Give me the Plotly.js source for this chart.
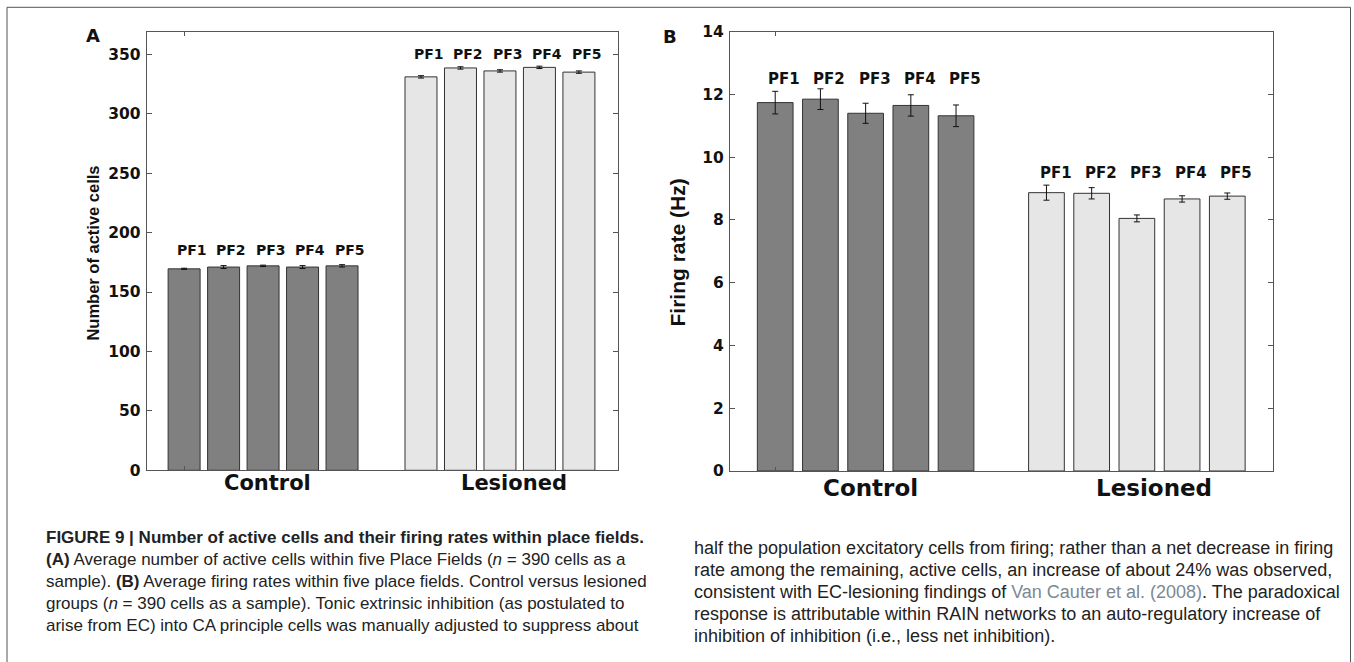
<!DOCTYPE html>
<html>
<head>
<meta charset="utf-8">
<script src="https://cdn.plot.ly/plotly-3.0.1.min.js"></script>
<style>
  html, body { margin: 0; padding: 0; background: #ffffff; }
  #chart { width: 1354px; height: 662px; }
</style>
</head>
<body>
<div id="chart"></div>
<script>
// ---- data ----
const groups = ['Control', 'Lesioned'];
const fields = ['PF1', 'PF2', 'PF3', 'PF4', 'PF5'];

// Panel A: number of active cells
const activeControl = [169.5, 171, 172, 171, 172];
const activeControlErr = [0.5, 1.2, 0.6, 1.2, 1.0];
const activeLesioned = [331, 338.5, 336, 339, 335];
const activeLesionedErr = [1.0, 1.0, 1.0, 1.0, 1.0];

// Panel B: firing rate (Hz)
const rateControl = [11.74, 11.85, 11.40, 11.65, 11.32];
const rateControlErr = [0.36, 0.33, 0.32, 0.34, 0.345];
const rateLesioned = [8.87, 8.85, 8.05, 8.67, 8.76];
const rateLesionedErr = [0.24, 0.18, 0.11, 0.10, 0.10];

const yTicksA = [0, 50, 100, 150, 200, 250, 300, 350];
const yTicksB = [0, 2, 4, 6, 8, 10, 12, 14];

// ---- layout helpers ----
const W = 1354, H = 662;
const px = v => v / W;
const py = v => 1 - v / H;

const ctrlPos = fields.map((_, i) => i + 1);
const lesPos = fields.map((_, i) => i + 7);

const darkFill = '#808080';
const lightFill = '#e6e6e6';
const edge = '#333333';
const axisCol = '#555555';

function barTrace(x, y, err, fill, width, xa, ya) {
  return {
    type: 'bar', x: x, y: y, width: width,
    xaxis: xa, yaxis: ya,
    marker: { color: fill, line: { color: edge, width: 1 } },
    error_y: { type: 'data', array: err, visible: true, color: '#111', thickness: 1, width: 3 },
    hoverinfo: 'y'
  };
}

const data = [
  barTrace(ctrlPos, activeControl, activeControlErr, darkFill, 0.81, 'x', 'y'),
  barTrace(lesPos, activeLesioned, activeLesionedErr, lightFill, 0.81, 'x', 'y'),
  barTrace(ctrlPos, rateControl, rateControlErr, darkFill, 0.79, 'x2', 'y2'),
  barTrace(lesPos, rateLesioned, rateLesionedErr, lightFill, 0.79, 'x2', 'y2')
];

const tickFont = { family: 'DejaVu Sans', size: 15.5, color: '#111', weight: 'bold' };

function xAxis(domain, range, anchor) {
  return {
    domain: domain, range: range, anchor: anchor,
    showline: true, linecolor: axisCol, linewidth: 1, mirror: 'ticks',
    ticks: 'inside', ticklen: 4, tickcolor: axisCol, tickvals: [1],
    showticklabels: false, showgrid: false, zeroline: false, fixedrange: true
  };
}
function yAxis(domain, range, tickvals, anchor) {
  return {
    domain: domain, range: range, anchor: anchor,
    showline: true, linecolor: axisCol, linewidth: 1, mirror: 'ticks',
    ticks: 'inside', ticklen: 5, tickcolor: axisCol,
    tickmode: 'array', tickvals: tickvals, ticktext: tickvals.map(String),
    tickfont: tickFont, ticklabelstandoff: 2,
    showgrid: false, zeroline: false, fixedrange: true
  };
}

const annotations = [];
// PF labels
function pfLabels(pos, yval, xref, yref, size) {
  fields.forEach((f, i) => {
    annotations.push({
      x: pos[i] + 0.2, y: yval, xref: xref, yref: yref, text: f, showarrow: false,
      xanchor: 'center', yanchor: 'middle',
      font: { family: 'DejaVu Sans', size: size, color: '#111', weight: 'bold' }
    });
  });
}
pfLabels(ctrlPos, 185, 'x', 'y', 14);
pfLabels(lesPos, 350, 'x', 'y', 14);
pfLabels(ctrlPos, 12.5, 'x2', 'y2', 15);
pfLabels(lesPos, 9.51, 'x2', 'y2', 15);

// group labels
[[3.11, 'x', 21, 483], [9.35, 'x', 21, 483], [3.10, 'x2', 23, 488], [9.37, 'x2', 23, 488]].forEach((g, k) => {
  annotations.push({
    x: g[0], xref: g[1], y: py(g[3]), yref: 'paper', text: groups[k % 2], showarrow: false,
    xanchor: 'center', yanchor: 'middle',
    font: { family: 'DejaVu Sans', size: g[2], color: '#111', weight: 'bold' }
  });
});

// y titles
annotations.push({
  x: px(92.6), y: py(253), xref: 'paper', yref: 'paper', text: 'Number of active cells',
  textangle: -90, showarrow: false, xanchor: 'center', yanchor: 'middle',
  font: { family: 'Liberation Sans', size: 16.5, color: '#111', weight: 'bold' }
});
annotations.push({
  x: px(677), y: py(252.5), xref: 'paper', yref: 'paper', text: 'Firing rate (Hz)',
  textangle: -90, showarrow: false, xanchor: 'center', yanchor: 'middle',
  font: { family: 'Liberation Sans', size: 21, color: '#111', weight: 'bold' }
});

// panel letters
annotations.push({
  x: px(93), y: py(36), xref: 'paper', yref: 'paper', text: 'A', showarrow: false,
  xanchor: 'center', yanchor: 'middle',
  font: { family: 'DejaVu Sans', size: 18, color: '#111', weight: 'bold' }
});
annotations.push({
  x: px(669.7), y: py(36.3), xref: 'paper', yref: 'paper', text: 'B', showarrow: false,
  xanchor: 'center', yanchor: 'middle',
  font: { family: 'DejaVu Sans', size: 18, color: '#111', weight: 'bold' }
});

// caption
const captionLeft = [
  '<b>FIGURE 9 | Number of active cells and their firing rates within place fields.</b>',
  '<b>(A)</b> Average number of active cells within five Place Fields (<i>n</i> = 390 cells as a',
  'sample). <b>(B)</b> Average firing rates within five place fields. Control versus lesioned',
  'groups (<i>n</i> = 390 cells as a sample). Tonic extrinsic inhibition (as postulated to',
  'arise from EC) into CA principle cells was manually adjusted to suppress about'
];
const captionRight = [
  'half the population excitatory cells from firing; rather than a net decrease in firing',
  'rate among the remaining, active cells, an increase of about 24% was observed,',
  'consistent with EC-lesioning findings of <span style="color:#7d8894">Van Cauter et al. (2008)</span>. The paradoxical',
  'response is attributable within RAIN networks to an auto-regulatory increase of',
  'inhibition of inhibition (i.e., less net inhibition).'
];
captionLeft.forEach((t, i) => {
  annotations.push({
    x: px(44), y: py(537 + 22 * i), xref: 'paper', yref: 'paper', text: t, showarrow: false,
    xanchor: 'left', yanchor: 'middle', align: 'left',
    font: { family: 'Liberation Sans', size: 17, color: '#222' }
  });
});
captionRight.forEach((t, i) => {
  annotations.push({
    x: px(692), y: py(548 + 22 * i), xref: 'paper', yref: 'paper', text: t, showarrow: false,
    xanchor: 'left', yanchor: 'middle', align: 'left',
    font: { family: 'Liberation Sans', size: 18, color: '#222' }
  });
});

const layout = {
  width: W, height: H,
  margin: { l: 0, r: 0, t: 0, b: 0 },
  paper_bgcolor: '#ffffff', plot_bgcolor: '#ffffff',
  showlegend: false, bargap: 0,
  xaxis: xAxis([px(146.6), px(618.4)], [0.05, 12.0], 'y'),
  yaxis: yAxis([py(470.3), py(31.7)], [0, 369], yTicksA, 'x'),
  xaxis2: xAxis([px(730), px(1272.5)], [0, 12], 'y2'),
  yaxis2: yAxis([py(471), py(31.7)], [0, 14], yTicksB, 'x2'),
  annotations: annotations,
  shapes: [{
    type: 'rect', xref: 'paper', yref: 'paper',
    x0: px(7), x1: px(1350.5), y0: -0.05, y1: py(7.3),
    line: { color: '#555', width: 1 }, fillcolor: 'rgba(0,0,0,0)'
  }]
};

Plotly.newPlot('chart', data, layout, { displayModeBar: false, staticPlot: true });
</script>
</body>
</html>
